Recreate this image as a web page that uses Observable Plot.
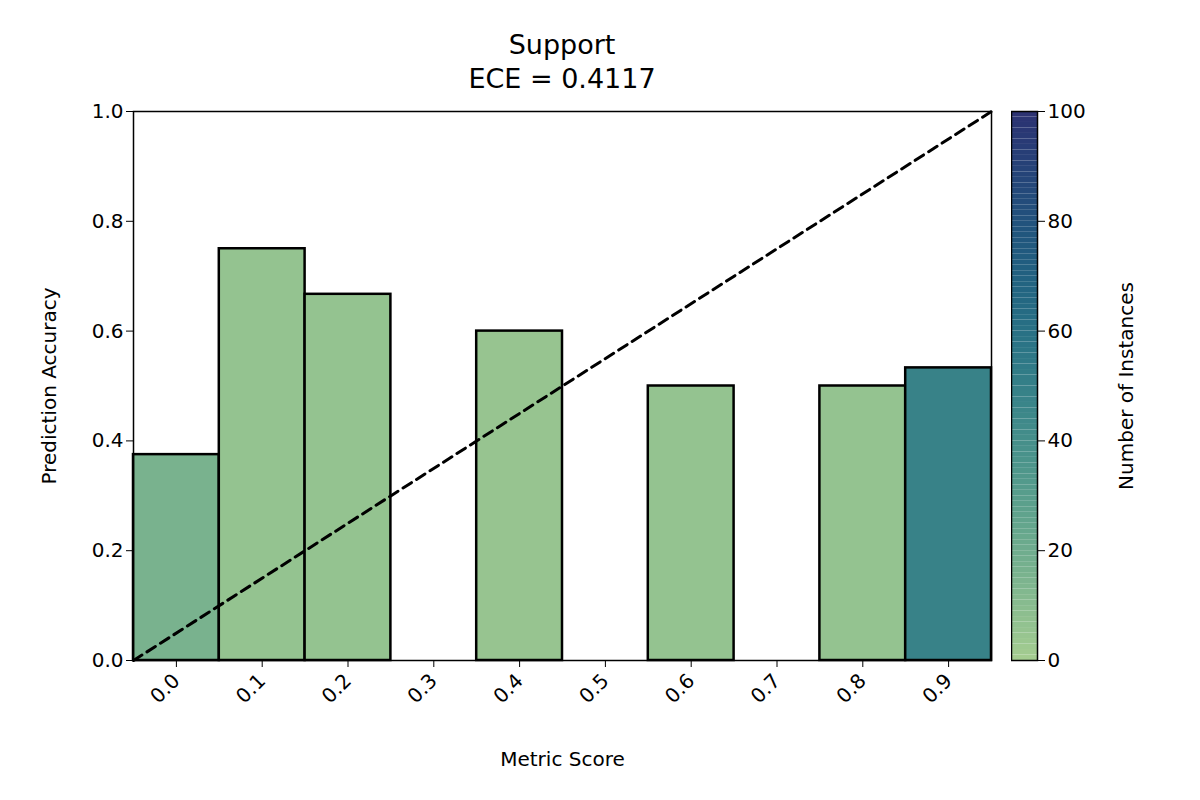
<!DOCTYPE html>
<html><head><meta charset="utf-8">
<script src="https://cdn.jsdelivr.net/npm/d3@7"></script>
<script src="https://cdn.jsdelivr.net/npm/@observablehq/plot@0.6"></script>
<style>
body{margin:0;background:#fff;font-family:"DejaVu Sans",sans-serif;}
#wrap{position:relative;width:1200px;height:800px;}
#title{position:absolute;left:133px;width:858px;top:28px;text-align:center;font-size:27px;line-height:34px;}
#main{position:absolute;left:0;top:0;}
#bar{position:absolute;left:1011px;top:0;}
</style></head>
<body>
<div id="wrap">
<div id="main"></div><div id="bar"></div>
<div id="title">Support<br>ECE = 0.4117</div>
</div>
<script>
const bins = [0.0, 0.1, 0.2, 0.3, 0.4, 0.5, 0.6, 0.7, 0.8, 0.9];
const accuracy = [0.375, 0.75, 0.667, 0, 0.6, 0, 0.5, 0, 0.5, 0.533];
const counts = [16, 6, 6, 0, 5, 0, 6, 0, 6, 48];
const diagonal = [[-0.05, 0], [0.95, 1]];
const crest = ["#a5cd90","#7cb48f","#5aa08c","#3f8a8a","#2a7586","#1f5f80","#23497a","#2c3172"];
const interp = d3.interpolateRgbBasis(crest);

const data = bins.map((b, i) => ({b, acc: accuracy[i], n: counts[i]})).filter(d => d.n > 0);

const main = Plot.plot({
  width: 1000, height: 800,
  marginLeft: 133, marginRight: 9, marginTop: 111, marginBottom: 140,
  style: {fontSize: "20px", fontFamily: "DejaVu Sans", color: "black"},
  x: {domain: [-0.05, 0.95]},
  y: {domain: [0, 1]},
  marks: [
    Plot.rectY(data, {x1: d => d.b - 0.05, x2: d => d.b + 0.05, y1: 0, y2: "acc",
      fill: d => interp(d.n / 100), stroke: "black", strokeWidth: 2.5}),
    Plot.line(diagonal, {x: d => d[0], y: d => d[1], stroke: "black", strokeWidth: 3, strokeDasharray: "10,6"}),
    Plot.frame({stroke: "black", strokeWidth: 1.5}),
    Plot.axisY({ticks: d3.range(0, 1.01, 0.2), tickFormat: d3.format(".1f"), tickSize: 7,
      label: "Prediction Accuracy", labelAnchor: "center", labelArrow: "none", labelOffset: 92}),
    Plot.axisX({ticks: bins, tickFormat: d3.format(".1f"), tickSize: 7, tickRotate: -45, tickPadding: 10,
      label: "Metric Score", labelAnchor: "center", labelArrow: "none", labelOffset: 105})
  ]
});
document.getElementById("main").appendChild(main);

const cells = d3.range(0, 100);
const bar = Plot.plot({
  width: 189, height: 800,
  marginLeft: 0, marginRight: 163, marginTop: 111, marginBottom: 140,
  style: {fontSize: "20px", fontFamily: "DejaVu Sans", color: "black"},
  x: {domain: [0, 1], axis: null},
  y: {domain: [0, 100]},
  marks: [
    Plot.rect(cells, {x1: 0, x2: 1, y1: d => d, y2: d => d + 1, fill: d => interp((d + 0.5) / 100)}),
    Plot.frame({stroke: "black", strokeWidth: 1.5}),
    Plot.axisY({anchor: "right", ticks: d3.range(0, 101, 20), tickSize: 7,
      label: "Number of Instances", labelAnchor: "center", labelArrow: "none", labelOffset: 95})
  ]
});
document.getElementById("bar").appendChild(bar);
</script>
</body></html>
